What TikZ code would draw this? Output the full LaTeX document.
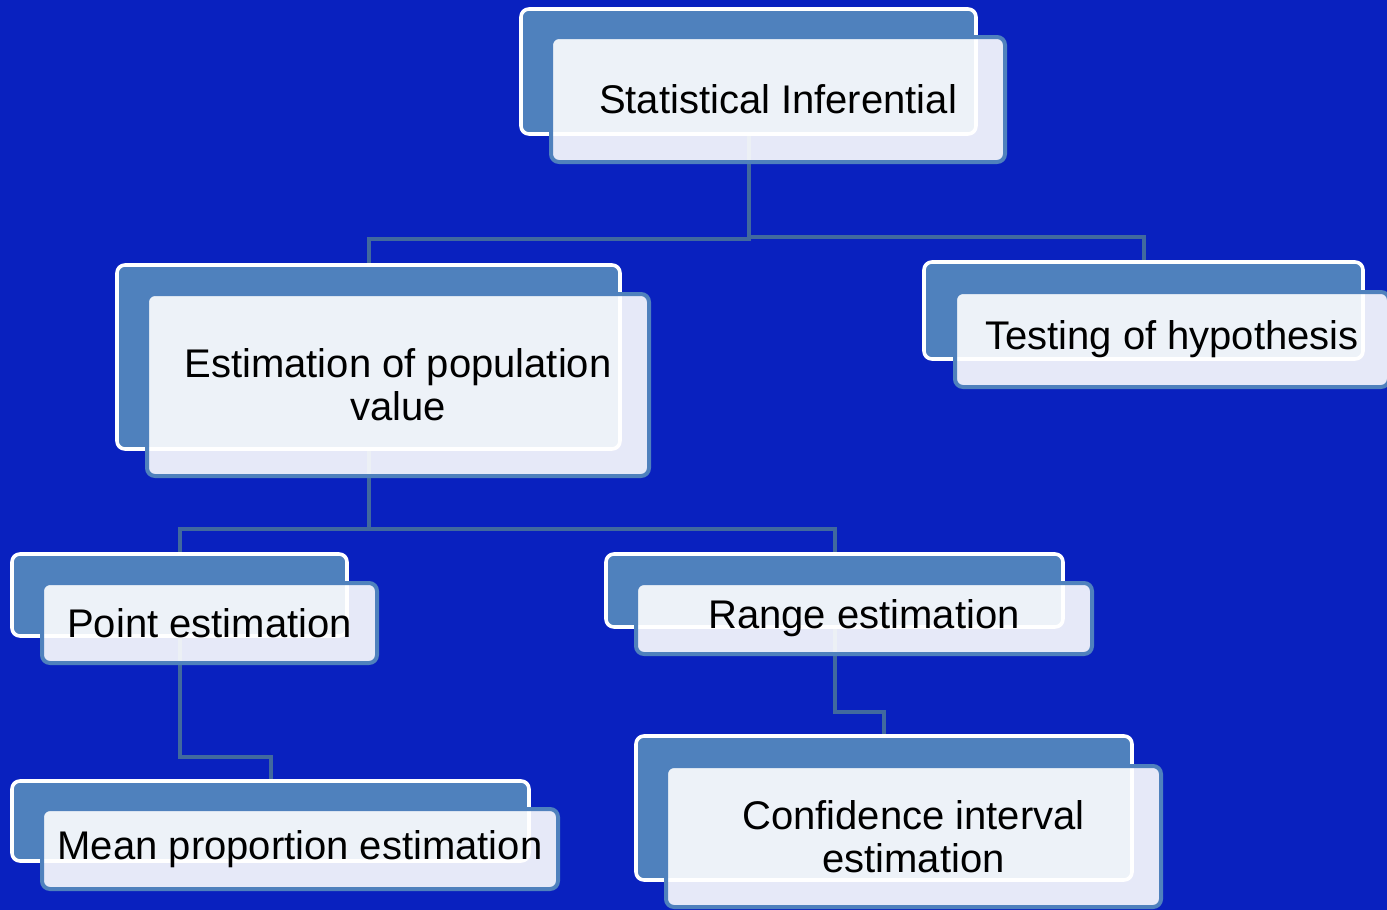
\documentclass[tikz,border=0pt]{standalone}
\usepackage{fontspec}
\setmainfont{Liberation Sans}
\definecolor{bgblue}{HTML}{0921BF}
\definecolor{accent}{HTML}{4F81BD}
\definecolor{connc}{HTML}{41699E}
\pgfdeclarelayer{bglayer}
\pgfdeclarelayer{lines}
\pgfsetlayers{bglayer,lines,main}
\begin{document}
\begin{tikzpicture}[x=0.5pt,y=-0.5pt,
  backbox/.style={draw=white, line width=1.8pt, fill=accent, rounded corners=4pt, inner sep=0pt},
  frontbox/.style={draw=accent, line width=2pt, fill=white, fill opacity=0.9, draw opacity=1, text opacity=1, rounded corners=4pt, inner sep=0pt, font=\fontsize{20}{21.5}\selectfont, align=center, text=black},
  conn/.style={draw=connc, line width=2pt}]
\begin{pgfonlayer}{bglayer}
  \fill[bgblue] (0,0) rectangle (1387,910);
\end{pgfonlayer}
\useasboundingbox (0,0) rectangle (1387,910);

% node 1
\node[backbox, minimum width=227.5pt, minimum height=62.5pt] (b1) at (748.5,71.5) {};
\node[frontbox, minimum width=227pt, minimum height=62.5pt] (f1) at (778,99.5) {Statistical Inferential};
% node 2
\node[backbox, minimum width=251.5pt, minimum height=92pt] (b2) at (368.5,357) {};
\node[frontbox, minimum width=251pt, minimum height=91pt] (f2) at (398,385) {Estimation of population\\value};
% node 3
\node[backbox, minimum width=219.5pt, minimum height=48.5pt] (b3) at (1143.5,310.5) {};
\node[frontbox, minimum width=217pt, minimum height=47.5pt] (f3) at (1172,339.5) {Testing of hypothesis};
% node 4
\node[backbox, minimum width=167.5pt, minimum height=41pt] (b4) at (179.5,595) {};
\node[frontbox, minimum width=167.5pt, minimum height=40pt] (f4) at (209.5,623) {Point estimation};
% node 5
\node[backbox, minimum width=228.5pt, minimum height=36.5pt] (b5) at (834.5,590.5) {};
\node[frontbox, minimum width=228pt, minimum height=35.5pt] (f5) at (864,618.5) {Range estimation};
% node 6
\node[backbox, minimum width=258.5pt, minimum height=40pt] (b6) at (270.5,821) {};
\node[frontbox, minimum width=258pt, minimum height=40pt] (f6) at (300,849) {Mean proportion estimation};
% node 7
\node[backbox, minimum width=248pt, minimum height=72pt] (b7) at (884,808) {};
\node[frontbox, minimum width=247.5pt, minimum height=70.5pt] (f7) at (913.5,836.5) {Confidence interval\\estimation};

\coordinate (h1L) at (0,239);
\coordinate (h1R) at (0,236.5);
\coordinate (h2) at (0,529);
\coordinate (h4) at (0,757);
\coordinate (h5) at (0,712);

\begin{pgfonlayer}{lines}
  \draw[conn] (b1.south) -- (b1.south |- h1L) -| (b2.north);
  \draw[conn] (b1.south) -- (b1.south |- h1R) -| (b3.north);
  \draw[conn] (b2.south) -- (b2.south |- h2) -| (b4.north);
  \draw[conn] (b2.south) -- (b2.south |- h2) -| (b5.north);
  \draw[conn] (b4.south) -- (b4.south |- h4) -| (b6.north);
  \draw[conn] (b5.south) -- (b5.south |- h5) -| (b7.north);
\end{pgfonlayer}
\end{tikzpicture}
\end{document}
